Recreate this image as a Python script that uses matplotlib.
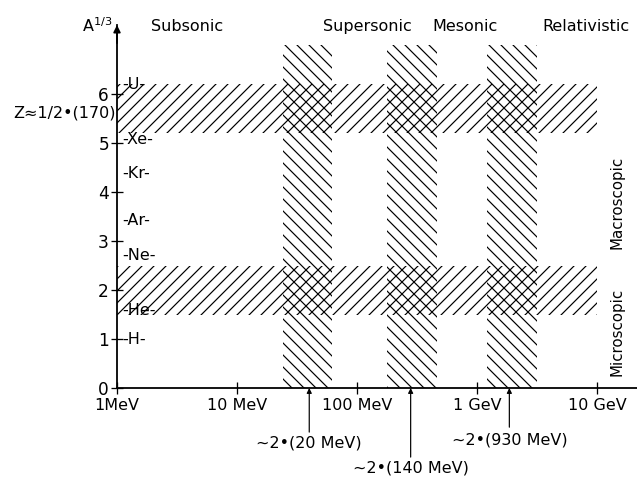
import matplotlib.pyplot as plt
from matplotlib.patches import Rectangle

# x axis: projectile energy per nucleon (MeV), log scale
energy_ticks = [1, 10, 100, 1000, 10000]
energy_labels = ['1MeV', '10 MeV', '100 MeV', '1 GeV', '10 GeV']

# y axis: A^(1/3)
a_ticks = [0, 1, 2, 3, 4, 5, 6]
elements = ['H', 'He', 'Ne', 'Ar', 'Kr', 'Xe', 'U']
element_a13 = [1.0, 1.59, 2.71, 3.42, 4.38, 5.08, 6.2]

# horizontal bands (A^1/3 ranges), across 1 MeV - 10 GeV
size_bands = [(1.5, 2.5), (5.2, 6.2)]
size_band_energy = (1, 10000)

# vertical bands (MeV ranges), from 0 up to A^1/3 = 7
energy_bands = [(24, 62), (178, 466), (1210, 3160)]
energy_band_top = 7.0

# thresholds marked with arrows under the axis
thresholds = [40, 280, 1860]
threshold_labels = ['~2•(20 MeV)', '~2•(140 MeV)', '~2•(930 MeV)']

regimes = ['Subsonic', 'Supersonic', 'Mesonic', 'Relativistic']

plt.rcParams['hatch.linewidth'] = 1.2
plt.rcParams['font.size'] = 16

fig = plt.figure(figsize=(637 / 72, 478 / 72), dpi=72)
ax = fig.add_axes([117 / 637, 90 / 478, 520 / 637, 363 / 478])
ax.set_xscale('log')
ax.set_xlim(1, 10 ** (520 / 120))
ax.set_ylim(0, 363 / 49)

for lo, hi in size_bands:
    ax.add_patch(Rectangle((size_band_energy[0], lo), size_band_energy[1] - size_band_energy[0], hi - lo,
                           fill=False, hatch='//', edgecolor='black', linewidth=0))
for lo, hi in energy_bands:
    ax.add_patch(Rectangle((lo, 0), hi - lo, energy_band_top,
                           fill=False, hatch='\\\\', edgecolor='black', linewidth=0))

# axes look
for s in ['top', 'right']:
    ax.spines[s].set_visible(False)
for s in ['left', 'bottom']:
    ax.spines[s].set_linewidth(1.8)
ax.annotate('', xy=(0, 1.0), xytext=(0, 0.95), xycoords='axes fraction',
            arrowprops=dict(arrowstyle='-|>', color='black', lw=1.8, mutation_scale=14,
                            shrinkA=0, shrinkB=0), annotation_clip=False)

ax.set_xticks(energy_ticks)
ax.set_xticklabels(energy_labels)
ax.xaxis.set_minor_locator(plt.NullLocator())
ax.set_yticks(a_ticks)
ax.tick_params(direction='inout', length=12, width=1.3, labelsize=17)
ax.tick_params(axis='x', pad=4, labelsize=16)
ax.tick_params(axis='y', pad=2)

ytr = ax.get_yaxis_transform()
for name, v in zip(elements, element_a13):
    ax.text(0.01, v, '-' + name + '-', transform=ytr, ha='left', va='center', fontsize=16)
ax.text(-0.002, 5.61, 'Z≈1/2•(170)', transform=ytr, ha='right', va='center', fontsize=16)
ax.text(-0.01, 7.27, r'A$^{1/3}$', transform=ytr, ha='right', va='baseline', fontsize=16)

# threshold arrows
tail_y = [-0.9, -1.41, -0.8]
text_y = [-1.12, -1.63, -1.06]
for x, lab, ty, tt in zip(thresholds, threshold_labels, tail_y, text_y):
    ax.annotate('', xy=(x, 0), xytext=(x, ty),
                arrowprops=dict(arrowstyle='-|>', color='black', lw=1.2, mutation_scale=10,
                                shrinkA=0, shrinkB=0), annotation_clip=False)
    ax.text(x, tt, lab, ha='center', va='center', fontsize=16, clip_on=False)

# regime names along the top
regime_x = [3.8, 121, 794, 8100]
for name, x in zip(regimes, regime_x):
    ax.text(x, 7.37, name, ha='center', va='center', fontsize=16, clip_on=False)

ax.text(14700, 3.78, 'Macroscopic', rotation=90, ha='center', va='center', fontsize=15)
ax.text(14700, 1.14, 'Microscopic', rotation=90, ha='center', va='center', fontsize=15)

fig.savefig('out.png', dpi=72)
